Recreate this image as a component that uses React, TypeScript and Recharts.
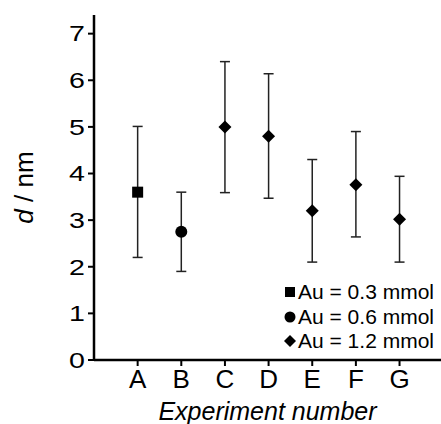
import React from 'react';
import { ScatterChart, Scatter, XAxis, YAxis, ErrorBar, Legend } from 'recharts';

const categories = ['A', 'B', 'C', 'D', 'E', 'F', 'G'];
const means = [3.6, 2.75, 5.0, 4.8, 3.2, 3.76, 3.02];
const lows = [2.2, 1.9, 3.59, 3.47, 2.1, 2.64, 2.1];
const highs = [5.01, 3.6, 6.4, 6.14, 4.3, 4.9, 3.94];
const groups = [0, 1, 2, 2, 2, 2, 2];
const seriesNames = ['Au = 0.3 mmol', 'Au = 0.6 mmol', 'Au = 1.2 mmol'];
const yTicks = [0, 1, 2, 3, 4, 5, 6, 7];
const xTicks = [1, 2, 3, 4, 5, 6, 7];

const rows = categories.map((c, i) => ({
  x: i + 1,
  y: means[i],
  err: [means[i] - lows[i], highs[i] - means[i]],
  g: groups[i],
}));
const seriesData = seriesNames.map((_, s) => rows.filter((r) => r.g === s));

const FONT = '"Liberation Sans", Arial, sans-serif';

const SquareShape = (p: any) => <rect x={p.cx - 5.5} y={p.cy - 5.5} width={11} height={11} fill="#000" />;
const CircleShape = (p: any) => <circle cx={p.cx} cy={p.cy} r={6} fill="#000" />;
const DiamondShape = (p: any) => (
  <polygon
    points={`${p.cx},${p.cy - 6.5} ${p.cx + 6.5},${p.cy} ${p.cx},${p.cy + 6.5} ${p.cx - 6.5},${p.cy}`}
    fill="#000"
  />
);
const shapes = [SquareShape, CircleShape, DiamondShape];

const legendMarker = (i: number) => {
  if (i === 0) return <rect x={1} y={1} width={10} height={10} fill="#000" />;
  if (i === 1) return <circle cx={6} cy={6} r={5.5} fill="#000" />;
  return <polygon points="6,0 12,6 6,12 0,6" fill="#000" />;
};

const renderLegend = () => (
  <div style={{ fontFamily: FONT, fontSize: 21, color: '#000' }}>
    {seriesNames.map((n, i) => (
      <div key={n} style={{ display: 'flex', alignItems: 'center', height: 24.5, whiteSpace: 'nowrap' }}>
        <svg width={12} height={12} style={{ marginRight: 2 }}>
          {legendMarker(i)}
        </svg>
        <span>{n}</span>
      </div>
    ))}
  </div>
);

const YTick = (props: any) => {
  const { x, y, payload } = props;
  return (
    <g transform={`translate(${x},${y})`}>
      <text
        transform="scale(1.3,1)"
        textAnchor="end"
        dy="0.355em"
        fontFamily={FONT}
        fontSize={22}
        fill="#000"
      >
        {payload.value}
      </text>
    </g>
  );
};

const YTitle = (props: any) => {
  const vb = props.viewBox || { x: 0, y: 15, width: 94, height: 345 };
  const cy = vb.y + vb.height / 2;
  const cx = 33;
  return (
    <text
      x={cx}
      y={cy}
      transform={`rotate(-90, ${cx}, ${cy})`}
      textAnchor="middle"
      fontFamily={FONT}
      fontSize={26}
      fill="#000"
    >
      <tspan fontStyle="italic">d</tspan>
      <tspan> / nm</tspan>
    </text>
  );
};

export default function App() {
  return (
    <div style={{ position: 'absolute', left: 0, top: 0 }}>
      <ScatterChart width={441} height={424} margin={{ top: 15, right: 0, bottom: 0, left: 0 }}>
        <XAxis
          type="number"
          dataKey="x"
          domain={[0, 7.95]}
          ticks={xTicks}
          allowDataOverflow
          height={64}
          tickFormatter={(v: number) => categories[v - 1] ?? ''}
          axisLine={{ stroke: '#000', strokeWidth: 2.5 }}
          tickLine={{ stroke: '#000', strokeWidth: 2 }}
          tickSize={6}
          tickMargin={4}
          tick={{ fontSize: 26, fill: '#000', fontFamily: FONT }}
          interval={0}
          label={{
            value: 'Experiment number',
            position: 'insideBottom',
            offset: 4,
            fontSize: 25,
            fontStyle: 'italic',
            fill: '#000',
            fontFamily: FONT,
          }}
        />
        <YAxis
          type="number"
          dataKey="y"
          domain={[0, 7.4]}
          ticks={yTicks}
          allowDataOverflow
          width={94}
          axisLine={{ stroke: '#000', strokeWidth: 2.5 }}
          tickLine={{ stroke: '#000', strokeWidth: 2 }}
          tickSize={6}
          tickMargin={3}
          tick={<YTick />}
          interval={0}
          label={<YTitle />}
        />
        <Legend
          layout="horizontal"
          verticalAlign="middle"
          align="center"
          content={renderLegend}
          wrapperStyle={{ left: 284, top: 280, width: 160, height: 75 }}
        />
        {seriesNames.map((n, s) => (
          <Scatter
            key={n}
            name={n}
            data={seriesData[s]}
            shape={shapes[s]}
            fill="#000"
            isAnimationActive={false}
          >
            <ErrorBar dataKey="err" direction="y" width={5} stroke="#222" strokeWidth={1.5} />
          </Scatter>
        ))}
      </ScatterChart>
    </div>
  );
}
